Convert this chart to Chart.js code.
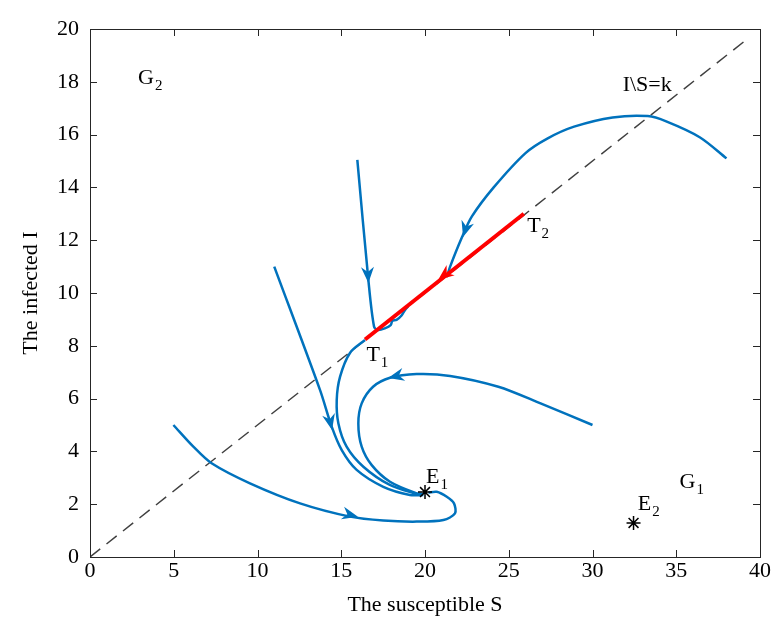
<!DOCTYPE html>
<html>
<head>
<meta charset="utf-8">
<script src="https://cdn.jsdelivr.net/npm/chart.js@4.4.1/dist/chart.umd.min.js"></script>
<style>
  html, body { margin: 0; padding: 0; background: #fff; }
  #wrap { width: 771px; height: 628px; }
</style>
</head>
<body>
<div id="wrap"><canvas id="phase-chart"></canvas></div>
<script>
//Axis ticks
const xTicks = [0, 5, 10, 15, 20, 25, 30, 35, 40];
const yTicks = [0, 2, 4, 6, 8, 10, 12, 14, 16, 18, 20];

//Dashed line I\S=k
const kLineS = [0, 39.3];
const kLineI = [0, 19.65];

//Red segment T1-T2
const redS = [25.9, 16.42];
const redI = [13.0, 8.24];

//Blue trajectories
const topS = [38.0, 36.4, 34.4, 33.3, 31.2, 28.9, 27.3, 26.0, 24.1, 22.8, 22.2, 21.5, 21.3];
const topI = [15.1, 15.9, 16.5, 16.7, 16.65, 16.3, 15.85, 15.3, 14.0, 12.9, 12.1, 11.0, 10.6];

const vertS = [15.96, 16.62, 16.96, 17.2, 17.6, 17.95, 18.05, 18.3, 18.6, 18.8, 19.0];
const vertI = [15.04, 10.49, 8.72, 8.6, 8.66, 8.78, 8.95, 8.98, 9.15, 9.35, 9.5];

const leftS = [11.0, 13.73, 14.43, 15.03, 15.92, 17.51, 19.1, 19.9];
const leftI = [11.0, 6.33, 4.94, 4.05, 3.3, 2.66, 2.35, 2.35];

const t1S = [16.42, 15.52, 14.93, 14.73, 14.83, 15.32, 16.32, 17.9, 19.7];
const t1I = [8.22, 7.73, 6.83, 5.95, 5.06, 4.18, 3.42, 2.73, 2.35];

const rightS = [30.0, 26.9, 24.38, 21.5, 19.5, 17.91, 16.9, 16.22, 16.02, 16.22, 16.82, 17.91, 19.5, 19.9];
const rightI = [5.0, 5.82, 6.45, 6.86, 6.93, 6.79, 6.45, 5.82, 5.06, 4.18, 3.48, 2.85, 2.41, 2.38];

const bottomS = [4.98, 6.17, 7.26, 9.55, 12.54, 15.52, 17.51, 19.5, 21.1, 21.79, 21.73, 21.3, 20.7, 20.2];
const bottomI = [5.0, 4.18, 3.55, 2.79, 2.03, 1.53, 1.38, 1.34, 1.4, 1.65, 2.03, 2.28, 2.47, 2.44];

//Equilibria E1, E2
const eqS = [20.0, 32.45];
const eqI = [2.46, 1.29];

//Arrowheads: tip and a point behind it on the curve
const arrowTipS = [22.27, 16.62, 14.45, 17.8, 16.0, 20.78];
const arrowTipI = [12.12, 10.38, 4.81, 6.78, 1.52, 10.49];
const arrowTailS = [22.6, 16.52, 14.1, 18.6, 15.0, 21.5];
const arrowTailI = [12.8, 11.5, 5.8, 6.9, 1.68, 10.85];
const arrowIsRed = [false, false, false, false, false, true];

//Text labels
const labelText = ['G', 'I\\S=k', 'T', 'T', 'E', 'E', 'G'];
const labelSub = ['2', '', '2', '1', '1', '2', '1'];
const labelS = [2.87, 31.8, 26.1, 16.5, 20.06, 32.7, 35.2];
const labelI = [17.9, 17.67, 12.3, 7.42, 2.8, 1.78, 2.6];

const BLUE = '#0072BD';
const RED = '#ff0000';
const SERIF = "'Liberation Serif', 'Times New Roman', serif";

function pts(xs, ys) {
    return xs.map((x, i) => ({x: x, y: ys[i]}));
}

function curve(xs, ys) {
    return {
        data: pts(xs, ys),
        showLine: true,
        borderColor: BLUE,
        borderWidth: 2.5,
        pointRadius: 0,
        tension: 0.3,
        order: 2
    };
}

//Frame, inward ticks, arrowheads and labels
const decorPlugin = {
    id: 'decor',
    afterDatasetsDraw(chart) {
        const ctx = chart.ctx;
        const xs = chart.scales.x, ys = chart.scales.y;
        for (let i = 0; i < arrowTipS.length; i++) {
            const tx = xs.getPixelForValue(arrowTipS[i]), ty = ys.getPixelForValue(arrowTipI[i]);
            const bx = xs.getPixelForValue(arrowTailS[i]), by = ys.getPixelForValue(arrowTailI[i]);
            const a = Math.atan2(ty - by, tx - bx);
            const len = 16, half = 6.5, notch = 11;
            ctx.save();
            ctx.translate(tx, ty);
            ctx.rotate(a);
            ctx.fillStyle = arrowIsRed[i] ? RED : BLUE;
            ctx.beginPath();
            ctx.moveTo(0, 0);
            ctx.lineTo(-len, -half);
            ctx.lineTo(-notch, 0);
            ctx.lineTo(-len, half);
            ctx.closePath();
            ctx.fill();
            ctx.restore();
        }
    },
    afterDraw(chart) {
        const ctx = chart.ctx;
        const area = chart.chartArea;
        const xs = chart.scales.x, ys = chart.scales.y;
        ctx.save();
        ctx.strokeStyle = '#262626';
        ctx.lineWidth = 1;
        ctx.strokeRect(Math.round(area.left) + 0.5, Math.round(area.top) + 0.5,
            Math.round(area.right - area.left), Math.round(area.bottom - area.top));
        ctx.beginPath();
        xTicks.slice(1, -1).forEach(v => {
            const px = Math.round(xs.getPixelForValue(v)) + 0.5;
            ctx.moveTo(px, area.bottom); ctx.lineTo(px, area.bottom - 7);
            ctx.moveTo(px, area.top); ctx.lineTo(px, area.top + 7);
        });
        yTicks.slice(1, -1).forEach(v => {
            const py = Math.round(ys.getPixelForValue(v)) + 0.5;
            ctx.moveTo(area.left, py); ctx.lineTo(area.left + 7, py);
            ctx.moveTo(area.right, py); ctx.lineTo(area.right - 7, py);
        });
        ctx.stroke();

        ctx.fillStyle = '#000';
        ctx.textBaseline = 'alphabetic';
        ctx.textAlign = 'left';
        for (let i = 0; i < labelText.length; i++) {
            const px = xs.getPixelForValue(labelS[i]), py = ys.getPixelForValue(labelI[i]);
            ctx.font = '22px ' + SERIF;
            ctx.fillText(labelText[i], px, py);
            const w = ctx.measureText(labelText[i]).width;
            if (labelSub[i]) {
                ctx.font = '15px ' + SERIF;
                ctx.fillText(labelSub[i], px + w + 1, py + 6);
            }
        }
        ctx.restore();
    }
};

//Build the chart
window.addEventListener('DOMContentLoaded', (e) => {
    const ctx = document.getElementById('phase-chart').getContext('2d');
    const tickFont = {family: SERIF, size: 22};
    new Chart(ctx, {
        type: 'scatter',
        data: {
            datasets: [
                {data: pts(eqS, eqI), pointStyle: 'star', pointRadius: 7, borderColor: '#000', borderWidth: 1.5, backgroundColor: '#000', order: 0},
                {data: pts(redS, redI), showLine: true, borderColor: RED, borderWidth: 4, pointRadius: 0, order: 1},
                curve(topS, topI),
                curve(vertS, vertI),
                curve(leftS, leftI),
                curve(t1S, t1I),
                curve(rightS, rightI),
                curve(bottomS, bottomI),
                {data: pts(kLineS, kLineI), showLine: true, borderColor: '#404040', borderWidth: 1.5, borderDash: [13, 8], pointRadius: 0, order: 3}
            ]
        },
        options: {
            responsive: true,
            maintainAspectRatio: false,
            animation: false,
            layout: {padding: {left: 0, top: 29, right: 11, bottom: 0}},
            plugins: {legend: {display: false}, tooltip: {enabled: false}},
            scales: {
                x: {
                    type: 'linear', min: 0, max: 40,
                    afterBuildTicks: (s) => { s.ticks = xTicks.map(v => ({value: v})); },
                    ticks: {padding: 1, color: '#000', font: tickFont, autoSkip: false, maxRotation: 0},
                    grid: {display: false, drawTicks: false},
                    border: {display: false},
                    title: {display: true, text: 'The susceptible S', color: '#000', font: tickFont, padding: {top: 0, bottom: 10}},
                    afterFit: (s) => { s.height = 71; s.paddingLeft = 0; s.paddingRight = 0; }
                },
                y: {
                    type: 'linear', min: 0, max: 20,
                    afterBuildTicks: (s) => { s.ticks = yTicks.map(v => ({value: v})); },
                    ticks: {padding: 11, color: '#000', font: tickFont, autoSkip: false},
                    grid: {display: false, drawTicks: false},
                    border: {display: false},
                    title: {display: true, text: 'The infected I', color: '#000', font: tickFont, padding: {top: 18, bottom: 0}},
                    afterFit: (s) => { s.width = 90; s.paddingTop = 0; s.paddingBottom = 0; }
                }
            }
        },
        plugins: [decorPlugin]
    });
});
</script>
</body>
</html>
